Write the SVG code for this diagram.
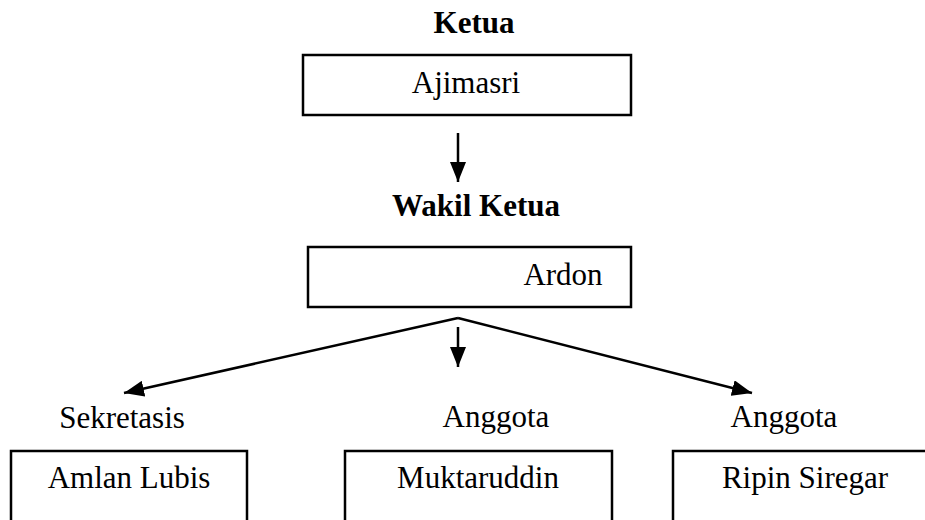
<svg xmlns="http://www.w3.org/2000/svg" width="925" height="520" viewBox="0 0 925 520">
<style>
.t{font-family:"Liberation Serif","Times New Roman",serif;font-size:31px;fill:#000}
.b{font-weight:bold}
.box{fill:#fff;stroke:#000;stroke-width:2.5}
.ln{stroke:#000;stroke-width:2.5;fill:none}
</style>
<defs>
<marker id="ah" markerUnits="userSpaceOnUse" markerWidth="22" markerHeight="16" refX="20" refY="8" orient="auto">
<path d="M0,0 L20,8 L0,16 Z" fill="#000"/>
</marker>
</defs>
<rect width="925" height="520" fill="#fff"/>
<g id="ketua">
<text class="t b" x="474" y="33" text-anchor="middle">Ketua</text>
<rect class="box" x="303" y="55" width="328" height="60"/>
<text class="t" x="466" y="93" text-anchor="middle">Ajimasri</text>
</g>
<g id="wakil">
<text class="t b" x="476" y="216" text-anchor="middle">Wakil Ketua</text>
<rect class="box" x="308" y="247" width="323" height="60"/>
<text class="t" x="563" y="285" text-anchor="middle">Ardon</text>
</g>
<g id="sekretasis">
<text class="t" x="122" y="428" text-anchor="middle">Sekretasis</text>
<rect class="box" x="11" y="451" width="236" height="80"/>
<text class="t" x="129" y="488" text-anchor="middle">Amlan Lubis</text>
</g>
<g id="anggota1">
<text class="t" x="496" y="427" text-anchor="middle">Anggota</text>
<rect class="box" x="345" y="451" width="267" height="80"/>
<text class="t" x="478" y="488" text-anchor="middle">Muktaruddin</text>
</g>
<g id="anggota2">
<text class="t" x="784" y="427" text-anchor="middle">Anggota</text>
<rect class="box" x="673" y="451" width="270" height="80"/>
<text class="t" x="805" y="488" text-anchor="middle">Ripin Siregar</text>
</g>
<g id="connectors">
<line class="ln" x1="458" y1="133" x2="458" y2="182" marker-end="url(#ah)"/>
<line class="ln" x1="458" y1="327" x2="458" y2="367" marker-end="url(#ah)"/>
<line class="ln" x1="458" y1="318" x2="124" y2="393" marker-end="url(#ah)"/>
<line class="ln" x1="458" y1="318" x2="752" y2="393" marker-end="url(#ah)"/>
</g>
</svg>
